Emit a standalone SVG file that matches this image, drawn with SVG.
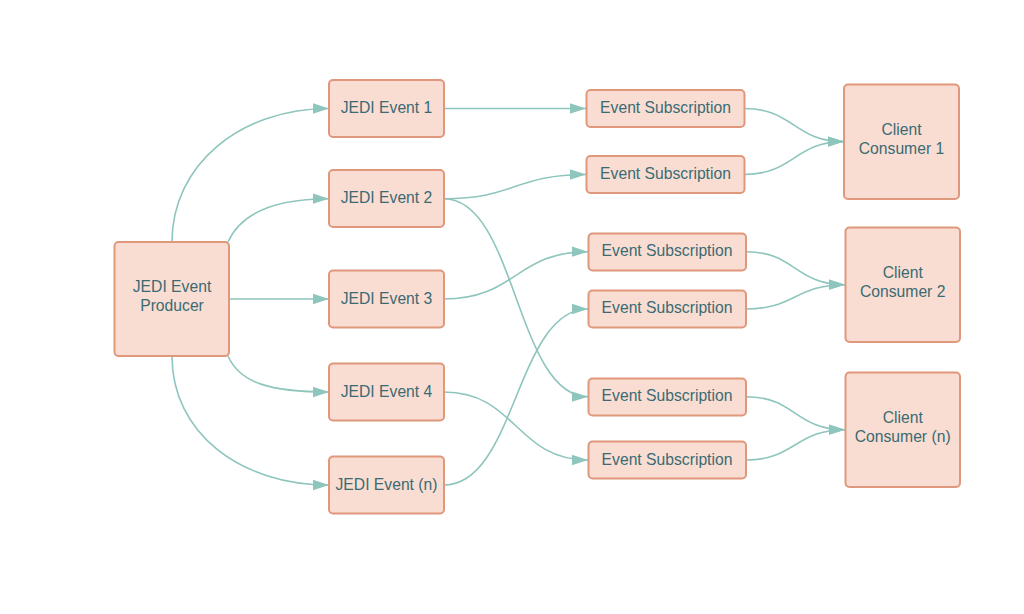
<svg xmlns="http://www.w3.org/2000/svg" width="1024" height="614" viewBox="0 0 1024 614">
<defs>
<style>
.n{fill:#f9ddd2;stroke:#e0987c;stroke-width:2}
.t{font-family:"Liberation Sans",Arial,sans-serif;font-size:15.7px;fill:#3b6b72;text-anchor:middle}
.c{fill:none;stroke:#8ec5bd;stroke-width:1.6}
</style>
<marker id="a" markerUnits="userSpaceOnUse" markerWidth="16" markerHeight="12" viewBox="0 0 14 9" refX="14" refY="4.5" orient="auto">
<path d="M0,0 L14,4.5 L0,9 z" fill="#8ec5bd"/>
</marker>
</defs>
<rect width="1024" height="614" fill="#ffffff"/>
<g id="connectors">
<path class="c" marker-end="url(#a)" d="M172 242 C172 165 240 108.5 329 108.5"/>
<path class="c" marker-end="url(#a)" d="M228 242 C240 215 270 198.7 329 198.7"/>
<path class="c" marker-end="url(#a)" d="M229 299 L329 299"/>
<path class="c" marker-end="url(#a)" d="M228 356 C240 383 270 392 329 392"/>
<path class="c" marker-end="url(#a)" d="M172 356 C172 433 240 485 329 485"/>
<path class="c" marker-end="url(#a)" d="M444 108.5 L586 108.5"/>
<path class="c" marker-end="url(#a)" d="M444 198.7 C515 198.7 515 174.5 586 174.5"/>
<path class="c" marker-end="url(#a)" d="M444 198.7 C516 198.7 516 396.7 588 396.7"/>
<path class="c" marker-end="url(#a)" d="M444 299 C516 299 516 251.7 588 251.7"/>
<path class="c" marker-end="url(#a)" d="M444 392 C516 392 516 460 588 460"/>
<path class="c" marker-end="url(#a)" d="M444 485 C516 485 516 309 588 309"/>
<path class="c" marker-end="url(#a)" d="M744 108.5 C794 108.5 794 141.6 844 141.6"/>
<path class="c" marker-end="url(#a)" d="M744 174.5 C794 174.5 794 141.6 844 141.6"/>
<path class="c" marker-end="url(#a)" d="M746 251.7 C795 251.7 795 284.7 845 284.7"/>
<path class="c" marker-end="url(#a)" d="M746 309 C795 309 795 284.7 845 284.7"/>
<path class="c" marker-end="url(#a)" d="M746 396.7 C795 396.7 795 429.7 845 429.7"/>
<path class="c" marker-end="url(#a)" d="M746 460 C795 460 795 429.7 845 429.7"/>
</g>
<g id="producer">
<rect class="n" x="114.5" y="242" width="114.5" height="114" rx="4"/>
<text class="t" x="172" y="291.5">JEDI Event</text>
<text class="t" x="172" y="310.5">Producer</text>
</g>
<g id="event1"><rect class="n" x="329" y="80" width="115" height="57" rx="4"/><text class="t" x="386.5" y="113">JEDI Event 1</text></g>
<g id="event2"><rect class="n" x="329" y="170" width="115" height="57" rx="4"/><text class="t" x="386.5" y="203">JEDI Event 2</text></g>
<g id="event3"><rect class="n" x="329" y="270.5" width="115" height="57" rx="4"/><text class="t" x="386.5" y="303.5">JEDI Event 3</text></g>
<g id="event4"><rect class="n" x="329" y="363.5" width="115" height="57" rx="4"/><text class="t" x="386.5" y="396.5">JEDI Event 4</text></g>
<g id="eventn"><rect class="n" x="329" y="456.5" width="115" height="57" rx="4"/><text class="t" x="386.5" y="489.5">JEDI Event (n)</text></g>
<g id="sub1"><rect class="n" x="586.5" y="90" width="158" height="37" rx="4"/><text class="t" x="665.5" y="113">Event Subscription</text></g>
<g id="sub2"><rect class="n" x="586.5" y="156" width="158" height="37" rx="4"/><text class="t" x="665.5" y="179">Event Subscription</text></g>
<g id="sub3"><rect class="n" x="588.5" y="233.5" width="157.5" height="37" rx="4"/><text class="t" x="667" y="256">Event Subscription</text></g>
<g id="sub4"><rect class="n" x="588.5" y="290.5" width="157.5" height="37" rx="4"/><text class="t" x="667" y="313">Event Subscription</text></g>
<g id="sub5"><rect class="n" x="588.5" y="378.5" width="157.5" height="37" rx="4"/><text class="t" x="667" y="401">Event Subscription</text></g>
<g id="sub6"><rect class="n" x="588.5" y="441.5" width="157.5" height="37" rx="4"/><text class="t" x="667" y="464.5">Event Subscription</text></g>
<g id="consumer1"><rect class="n" x="844" y="84.5" width="115" height="114.5" rx="4"/><text class="t" x="901.5" y="134.5">Client</text><text class="t" x="901.5" y="153.5">Consumer 1</text></g>
<g id="consumer2"><rect class="n" x="845.5" y="227.5" width="114.5" height="114.5" rx="4"/><text class="t" x="902.7" y="277.5">Client</text><text class="t" x="902.7" y="296.5">Consumer 2</text></g>
<g id="consumern"><rect class="n" x="845.5" y="372.5" width="114.5" height="114.5" rx="4"/><text class="t" x="902.7" y="422.5">Client</text><text class="t" x="902.7" y="441.5">Consumer (n)</text></g>
</svg>
